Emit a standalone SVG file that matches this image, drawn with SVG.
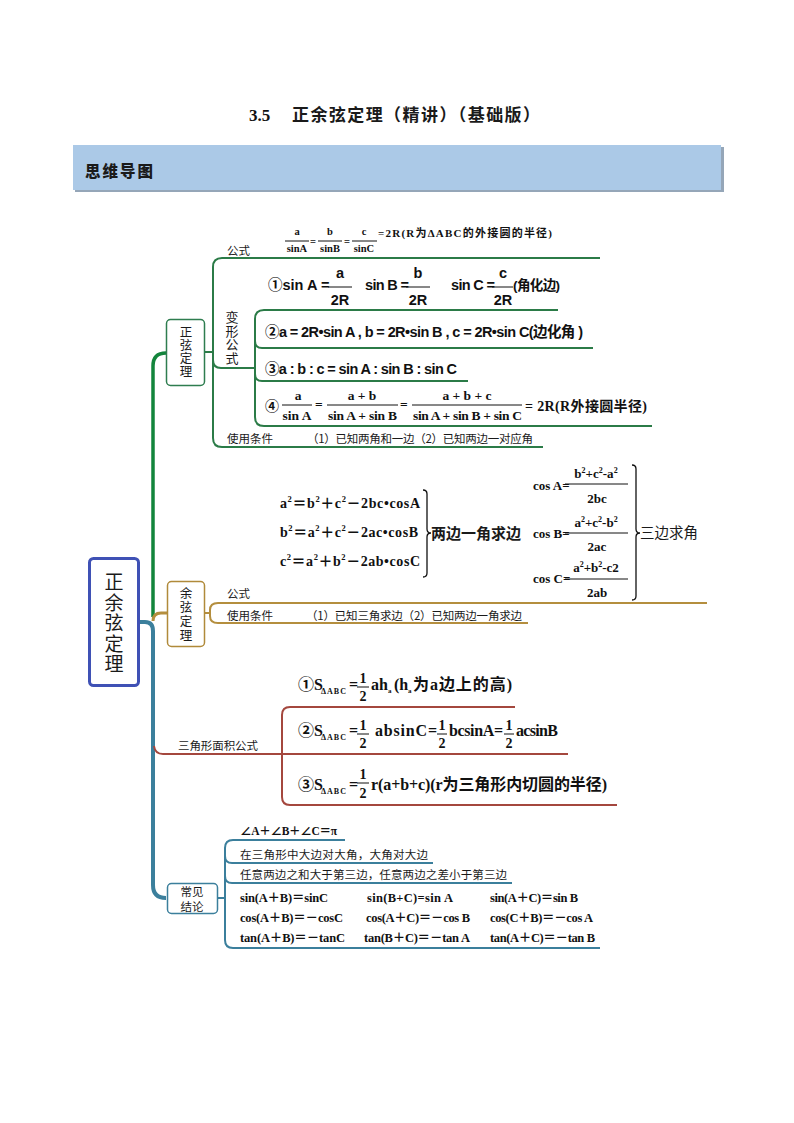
<svg xmlns="http://www.w3.org/2000/svg" width="794" height="1123" viewBox="0 0 794 1123">
<style>
.cjk{font-family:"Noto Sans CJK SC",sans-serif;fill:#1a1a1a}
.ser{font-family:"Liberation Serif","Noto Sans CJK SC",serif;font-weight:bold;fill:#111}
.san{font-family:"Liberation Sans","Noto Sans CJK SC",sans-serif;font-weight:bold;fill:#111}
.lbl{font-family:"Noto Sans CJK SC",sans-serif;font-size:11.5px;fill:#1a1a1a}
.vert{writing-mode:vertical-rl;text-orientation:upright;text-anchor:middle}
.g{fill:none;stroke:#2b7b47;stroke-width:2}
.gold{fill:none;stroke:#b48e3e;stroke-width:2}
.bl{fill:none;stroke:#3b7f9c;stroke-width:2}
.rd{fill:none;stroke:#a4473e;stroke-width:2}
.bar{stroke:#111;stroke-width:1}
.brace{fill:none;stroke:#111;stroke-width:1.3}
.mid{text-anchor:middle}
</style>
<rect width="794" height="1123" fill="#ffffff"/>

<g id="title">
<text x="249" y="121" class="ser" font-size="17">3.5</text>
<text x="292" y="121" class="cjk" font-weight="bold" font-size="17" textLength="248">正余弦定理（精讲）（基础版）</text>
</g>
<g id="header">
<rect x="75" y="147" width="649" height="45" fill="#95a6b8"/>
<rect x="73" y="145" width="648" height="45" fill="#abc9e7"/>
<text x="85" y="177" class="cjk" font-weight="900" font-size="15.5" letter-spacing="2">思维导图</text>
</g>

<g id="connectors">
<!-- green -->
<path d="M153,617 V366 Q153,353 166,353" fill="none" stroke="#13853c" stroke-width="3.5"/>
<path class="g" d="M205,352 H213"/>
<path class="g" d="M600,258 H222 Q213,258 213,267 V438 Q213,447 222,447 H543"/>
<path class="g" d="M213,360 Q213,368 221,368 H255"/>
<path class="g" d="M558,310 H264 Q255,310 255,319 V417 Q255,426 264,426 H652"/>
<path class="g" d="M255,341 Q255,348 262,348 H593"/>
<path class="g" d="M255,374 Q255,381 262,381 H468"/>
<!-- gold -->
<path d="M153,621 Q153,613 161,613 H167" fill="none" stroke="#b48e3e" stroke-width="3"/>
<path class="gold" d="M205,613 H210"/>
<path class="gold" d="M707,603 H218 Q210,603 210,610 V616 Q210,623 218,623 H528"/>
<!-- blue -->
<path d="M139,622 H145 Q153,622 153,631 V885 Q153,898 166,898" fill="none" stroke="#3b7f9c" stroke-width="4"/>
<path class="bl" d="M217,898 H225"/>
<path class="bl" d="M345,840 H233 Q225,840 225,848 V940 Q225,948 233,948 H600"/>
<path class="bl" d="M225,856 Q225,863 232,863 H433"/>
<path class="bl" d="M225,876 Q225,883 232,883 H512"/>
<!-- red -->
<path class="rd" d="M154,746 Q155,754 163,754 H282"/>
<path class="rd" d="M515,707 H290 Q282,707 282,715 V797 Q282,805 290,805 H617"/>
<path class="rd" d="M282,754 H568"/>
</g>

<g id="root">
<rect x="89.5" y="558.5" width="49" height="127" rx="4" fill="#fff" stroke="#3f51b5" stroke-width="3"/>
<text class="cjk vert" font-size="19" letter-spacing="1.5" x="114" y="624">正余弦定理</text>
</g>

<g id="node-sine">
<rect x="166.5" y="319.5" width="38" height="66" rx="4" fill="#fff" stroke="#2e7d4f" stroke-width="1.5"/>
<text class="cjk vert" font-size="12.5" letter-spacing="0.5" x="186" y="352">正弦定理</text>
</g>

<g id="sine-formula">
<text x="227" y="255" class="lbl">公式</text>
<text class="ser mid" font-size="10.5" x="297" y="235">a</text>
<line class="bar" x1="285" y1="241" x2="309" y2="241"/>
<text class="ser mid" font-size="10.5" x="297" y="252">sinA</text>
<text class="ser" font-size="10.5" x="310" y="244.5">=</text>
<text class="ser mid" font-size="10.5" x="330" y="235">b</text>
<line class="bar" x1="318" y1="241" x2="342" y2="241"/>
<text class="ser mid" font-size="10.5" x="330" y="252">sinB</text>
<text class="ser" font-size="10.5" x="344" y="244.5">=</text>
<text class="ser mid" font-size="10.5" x="364" y="235">c</text>
<line class="bar" x1="352" y1="241" x2="377" y2="241"/>
<text class="ser mid" font-size="10.5" x="364" y="252">sinC</text>
<text class="ser" font-size="11" x="378" y="237" textLength="174">=2R(R为ΔABC的外接圆的半径)</text>
</g>

<g id="sine-variants">
<text class="cjk vert" font-size="13" letter-spacing="0.5" x="232" y="338">变形公式</text>
<text class="san" font-size="14.5" x="268" y="290">①sin A =</text>
<text class="san mid" font-size="14.5" x="340" y="278">a</text>
<line class="bar" x1="328" y1="287" x2="352" y2="287"/>
<text class="san mid" font-size="14.5" x="340" y="305">2R</text>
<text class="san" font-size="14.5" x="365" y="290" textLength="44">sin B =</text>
<text class="san mid" font-size="14.5" x="418" y="278">b</text>
<line class="bar" x1="406" y1="287" x2="430" y2="287"/>
<text class="san mid" font-size="14.5" x="418" y="305">2R</text>
<text class="san" font-size="14.5" x="451" y="290" textLength="44">sin C =</text>
<text class="san mid" font-size="14.5" x="503" y="278">c</text>
<line class="bar" x1="492" y1="287" x2="513" y2="287"/>
<text class="san mid" font-size="14.5" x="503" y="305">2R</text>
<text class="san" font-size="13.5" x="513" y="290" textLength="47">(角化边)</text>

<text class="san" font-size="14.5" x="265" y="337" textLength="318">②a = 2R•sin A , b = 2R•sin B , c = 2R•sin C(边化角 )</text>
<text class="san" font-size="14.5" x="265" y="374" textLength="192">③a : b : c = sin A : sin B : sin C</text>

<text class="ser" font-size="14" x="265" y="411">④</text>
<text class="ser mid" font-size="13.5" x="298" y="400">a</text>
<line class="bar" x1="282" y1="405" x2="312" y2="405"/>
<text class="ser mid" font-size="13.5" x="297" y="420">sin A</text>
<text class="ser" font-size="13.5" x="315" y="409">=</text>
<text class="ser mid" font-size="13.5" x="362" y="400">a + b</text>
<line class="bar" x1="327" y1="405" x2="398" y2="405"/>
<text class="ser" font-size="13.5" x="328" y="420" textLength="69">sin A + sin B</text>
<text class="ser" font-size="13.5" x="400" y="409">=</text>
<text class="ser mid" font-size="13.5" x="467" y="400">a + b + c</text>
<line class="bar" x1="412" y1="405" x2="522" y2="405"/>
<text class="ser" font-size="13.5" x="413" y="420" textLength="109">sin A + sin B + sin C</text>
<text class="ser" font-size="14" x="525" y="411" textLength="122">= 2R(R外接圆半径)</text>
</g>

<g id="sine-condition">
<text x="227" y="443" class="lbl">使用条件</text>
<text x="307" y="443" class="lbl" textLength="226">（1）已知两角和一边（2）已知两边一对应角</text>
</g>

<g id="cosine-formulas">
<text class="ser" font-size="14" x="280" y="508" textLength="140">a<tspan dy="-6" font-size="8.5">2</tspan><tspan dy="6">＝b</tspan><tspan dy="-6" font-size="8.5">2</tspan><tspan dy="6">＋c</tspan><tspan dy="-6" font-size="8.5">2</tspan><tspan dy="6">－2bc•cosA</tspan></text>
<text class="ser" font-size="14" x="280" y="537" textLength="138">b<tspan dy="-6" font-size="8.5">2</tspan><tspan dy="6">＝a</tspan><tspan dy="-6" font-size="8.5">2</tspan><tspan dy="6">＋c</tspan><tspan dy="-6" font-size="8.5">2</tspan><tspan dy="6">－2ac•cosB</tspan></text>
<text class="ser" font-size="14" x="280" y="566" textLength="140">c<tspan dy="-6" font-size="8.5">2</tspan><tspan dy="6">＝a</tspan><tspan dy="-6" font-size="8.5">2</tspan><tspan dy="6">＋b</tspan><tspan dy="-6" font-size="8.5">2</tspan><tspan dy="6">－2ab•cosC</tspan></text>
<path class="brace" d="M423,490 Q427,490 427,494 V529 Q427,533 431,533 Q427,533 427,537 V573 Q427,577 423,577"/>
<text class="cjk" font-weight="bold" font-size="15" x="431" y="539">两边一角求边</text>

<text class="ser" font-size="13" x="533" y="490">cos A=</text>
<text class="ser mid" font-size="13" x="596" y="478">b<tspan dy="-5" font-size="8">2</tspan><tspan dy="5">+c</tspan><tspan dy="-5" font-size="8">2</tspan><tspan dy="5">-a</tspan><tspan dy="-5" font-size="8">2</tspan></text>
<line class="bar" x1="565" y1="484" x2="628" y2="484"/>
<text class="ser mid" font-size="13" x="597" y="503">2bc</text>

<text class="ser" font-size="13" x="533" y="538">cos B=</text>
<text class="ser mid" font-size="13" x="596" y="527">a<tspan dy="-5" font-size="8">2</tspan><tspan dy="5">+c</tspan><tspan dy="-5" font-size="8">2</tspan><tspan dy="5">-b</tspan><tspan dy="-5" font-size="8">2</tspan></text>
<line class="bar" x1="565" y1="533" x2="628" y2="533"/>
<text class="ser mid" font-size="13" x="597" y="551">2ac</text>

<text class="ser" font-size="13" x="533" y="583">cos C=</text>
<text class="ser mid" font-size="13" x="596" y="572">a<tspan dy="-5" font-size="8">2</tspan><tspan dy="5">+b</tspan><tspan dy="-5" font-size="8">2</tspan><tspan dy="5">-c2</tspan></text>
<line class="bar" x1="565" y1="579" x2="628" y2="579"/>
<text class="ser mid" font-size="13" x="597" y="597">2ab</text>
<path class="brace" d="M632,465 Q636,465 636,469 V529 Q636,533 640,533 Q636,533 636,537 V596 Q636,600 632,600"/>
<text class="cjk" font-size="14.5" x="640" y="538">三边求角</text>
</g>

<g id="node-cosine">
<rect x="167.5" y="581.5" width="37" height="65" rx="4" fill="#fff" stroke="#b08a3a" stroke-width="1.5"/>
<text class="cjk vert" font-size="12.5" letter-spacing="1.5" x="186" y="615">余弦定理</text>
</g>
<g id="cosine-labels">
<text x="227" y="598" class="lbl">公式</text>
<text x="227" y="620" class="lbl">使用条件</text>
<text x="306" y="620" class="lbl" textLength="216">（1）已知三角求边（2）已知两边一角求边</text>
</g>

<g id="area">
<text x="178" y="750" class="lbl" textLength="80">三角形面积公式</text>
<!-- row 1 -->
<text class="ser" font-size="16" x="298" y="690">①S</text>
<text class="ser" font-size="8" x="321" y="694" textLength="25">ΔABC</text>
<text class="ser" font-size="16" x="349" y="690">=</text>
<text class="ser mid" font-size="14" x="363" y="683">1</text>
<line class="bar" x1="357" y1="687" x2="369" y2="687"/>
<text class="ser mid" font-size="14" x="363" y="701">2</text>
<text class="ser" font-size="16" x="371" y="690">ah</text>
<text class="ser" font-size="7" x="388" y="693">a</text>
<text class="ser" font-size="16" x="394" y="690">(h</text>
<text class="ser" font-size="7" x="408" y="693">a</text>
<text class="ser" font-size="16" x="413" y="690" textLength="99">为a边上的高)</text>
<!-- row 2 -->
<text class="ser" font-size="16" x="298" y="736">②S</text>
<text class="ser" font-size="8" x="321" y="740" textLength="25">ΔABC</text>
<text class="ser" font-size="16" x="349" y="736">=</text>
<text class="ser mid" font-size="14" x="363" y="730">1</text>
<line class="bar" x1="357" y1="734" x2="369" y2="734"/>
<text class="ser mid" font-size="14" x="363" y="748">2</text>
<text class="ser" font-size="16" x="375" y="736" textLength="62">absinC=</text>
<text class="ser mid" font-size="14" x="442" y="730">1</text>
<line class="bar" x1="437" y1="734" x2="447" y2="734"/>
<text class="ser mid" font-size="14" x="442" y="748">2</text>
<text class="ser" font-size="16" x="449" y="736" textLength="54">bcsinA=</text>
<text class="ser mid" font-size="14" x="509" y="730">1</text>
<line class="bar" x1="504" y1="734" x2="514" y2="734"/>
<text class="ser mid" font-size="14" x="509" y="748">2</text>
<text class="ser" font-size="16" x="516" y="736" textLength="42">acsinB</text>
<!-- row 3 -->
<text class="ser" font-size="16" x="298" y="790">③S</text>
<text class="ser" font-size="8" x="321" y="794" textLength="25">ΔABC</text>
<text class="ser" font-size="16" x="349" y="790">=</text>
<text class="ser mid" font-size="14" x="363" y="779">1</text>
<line class="bar" x1="357" y1="783" x2="369" y2="783"/>
<text class="ser mid" font-size="14" x="363" y="798">2</text>
<text class="ser" font-size="16" x="371" y="790" textLength="236">r(a+b+c)(r为三角形内切圆的半径)</text>
</g>

<g id="node-conclusion">
<rect x="167.5" y="883.5" width="50" height="30" rx="4" fill="#fff" stroke="#3b7f9c" stroke-width="1.5"/>
<text class="cjk" font-size="11.5" text-anchor="middle" x="192" y="895.5">常见</text>
<text class="cjk" font-size="11.5" text-anchor="middle" x="192" y="910.5">结论</text>
</g>
<g id="conclusions">
<text class="ser" font-size="11.5" font-weight="normal" x="240" y="835" textLength="97">∠A＋∠B＋∠C＝π</text>
<text class="lbl" font-size="11.7" x="240" y="859" textLength="188">在三角形中大边对大角，大角对大边</text>
<text class="lbl" font-size="11.7" x="240" y="879" textLength="267">任意两边之和大于第三边，任意两边之差小于第三边</text>
<text class="ser" font-size="12.5" x="240" y="902" textLength="88">sin(A＋B)＝sinC</text>
<text class="ser" font-size="12.5" x="367" y="902" textLength="86">sin(B+C)=sin A</text>
<text class="ser" font-size="12.5" x="490" y="902" textLength="88">sin(A＋C)＝sin B</text>
<text class="ser" font-size="12.5" x="240" y="922" textLength="103">cos(A＋B)＝－cosC</text>
<text class="ser" font-size="12.5" x="366" y="922" textLength="104">cos(A＋C)＝－cos B</text>
<text class="ser" font-size="12.5" x="490" y="922" textLength="103">cos(C＋B)＝－cos A</text>
<text class="ser" font-size="12.5" x="240" y="942" textLength="105">tan(A＋B)＝－tanC</text>
<text class="ser" font-size="12.5" x="364" y="942" textLength="106">tan(B＋C)＝－tan A</text>
<text class="ser" font-size="12.5" x="490" y="942" textLength="105">tan(A＋C)＝－tan B</text>
</g>
</svg>
